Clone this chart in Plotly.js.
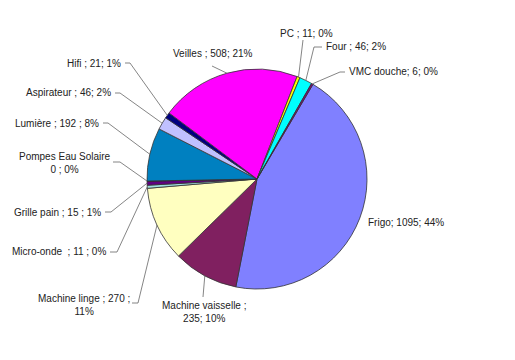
<!DOCTYPE html>
<html><head><meta charset="utf-8">
<script src="https://cdn.plot.ly/plotly-3.0.1.min.js"></script>
<style>html,body{margin:0;padding:0;background:#fff}#chart{width:515px;height:360px}</style>
</head><body><div id="chart"></div>
<script>
// ---- data ----
const categories = ["Frigo","Machine vaisselle","Machine linge","Micro-onde","Grille pain","Pompes Eau Solaire","Lumière","Aspirateur","Hifi","Veilles","PC","Four","VMC douche"];
const values = [1095,235,270,11,15,0,192,46,21,508,11,46,6];
const percents = [44,10,11,0,1,0,8,2,1,21,0,2,0];
// label formats as printed ({n}=name, {v}=value, {p}=percent)
const labelFormats = ["{n}; {v}; {p}%","{n} ;<br>{v}; {p}%","{n} ; {v} ;<br>{p}%","{n}  ; {v} ; {p}%","{n} ; {v} ; {p}%","{n}<br>{v} ; {p}%","{n} ; {v} ; {p}%","{n} ; {v}; {p}%","{n} ; {v}; {p}%","{n} ; {v}; {p}%","{n} ; {v}; {p}%","{n} ; {v}; {p}%","{n}; {v}; {p}%"];

// ---- styles / layout ----
const colors = ["#8080FF","#802060","#FFFFC0","#A0E0E0","#600080","#FF8080","#0080C0","#C0C0FF","#000080","#FF00FF","#FFFF00","#00FFFF","#800080"];
const W = 515, H = 360;
const CX = 257, CY = 179, R = 110;
const ROT = 30.6;
// label anchor positions (pixels) and leader-line knee points
const labelLayout = [
  {x:366, y:222, xa:'left',   knee:[]},
  {x:204, y:312, xa:'center', knee:[[203,297]]},
  {x:84,  y:305, xa:'center', knee:[[138,303],[132,303]]},
  {x:108, y:252, xa:'right',  knee:[[117,252],[110,252]]},
  {x:103, y:212, xa:'right',  knee:[[111,212],[105,212]]},
  {x:65,  y:163, xa:'center', knee:[[120,162],[113,162]]},
  {x:101, y:123, xa:'right',  knee:[[108,123],[103,123]]},
  {x:113, y:93,  xa:'right',  knee:[[120,93],[115,93]]},
  {x:123, y:63,  xa:'right',  knee:[[130,63],[125,63]]},
  {x:213, y:53,  xa:'center', knee:[[212,66]]},
  {x:278, y:33,  xa:'left',   knee:[[303,40]]},
  {x:324, y:46,  xa:'left',   knee:[[314,47],[322,47]]},
  {x:347, y:72,  xa:'left',   knee:[[340,72],[345,72]]}
];

const px = x => x / W, py = y => 1 - y / H;
const total = values.reduce((a,b)=>a+b,0);
let cum = 0;
const annotations = [], shapes = [];
categories.forEach((name,i)=>{
  const mid = (ROT + (cum + values[i]/2) / total * 360) * Math.PI/180;
  cum += values[i];
  const ex = CX + R*Math.sin(mid), ey = CY - R*Math.cos(mid);
  const L = labelLayout[i];
  const txt = labelFormats[i].replace('{n}',name).replace('{v}',values[i]).replace('{p}',percents[i]);
  annotations.push({xref:'paper',yref:'paper',x:px(L.x),y:py(L.y),xanchor:L.xa,yanchor:'middle',
    text:txt,showarrow:false,align:'center',
    font:{family:'Liberation Sans, Arial, sans-serif',size:10,color:'#222'}});
  if (L.knee.length){
    let d = `M ${px(ex)},${py(ey)}`;
    L.knee.forEach(k=>{ d += ` L ${px(k[0])},${py(k[1])}`; });
    shapes.push({type:'path',xref:'paper',yref:'paper',path:d,line:{color:'#666',width:0.8}});
  }
});

const trace = {
  type:'pie', labels:categories, values:values, sort:false, direction:'clockwise',
  rotation:ROT, textinfo:'none', hoverinfo:'label+value+percent',
  marker:{colors:colors, line:{color:'#333', width:0.8}},
  domain:{x:[px(CX-R), px(CX+R)], y:[py(CY+R), py(CY-R)]},
  showlegend:false
};
const layout = {
  width:W, height:H, margin:{l:0,r:0,t:0,b:0},
  paper_bgcolor:'#fff', plot_bgcolor:'#fff', showlegend:false,
  annotations:annotations, shapes:shapes
};
Plotly.newPlot('chart',[trace],layout,{displayModeBar:false,staticPlot:true});
</script>
</body></html>
